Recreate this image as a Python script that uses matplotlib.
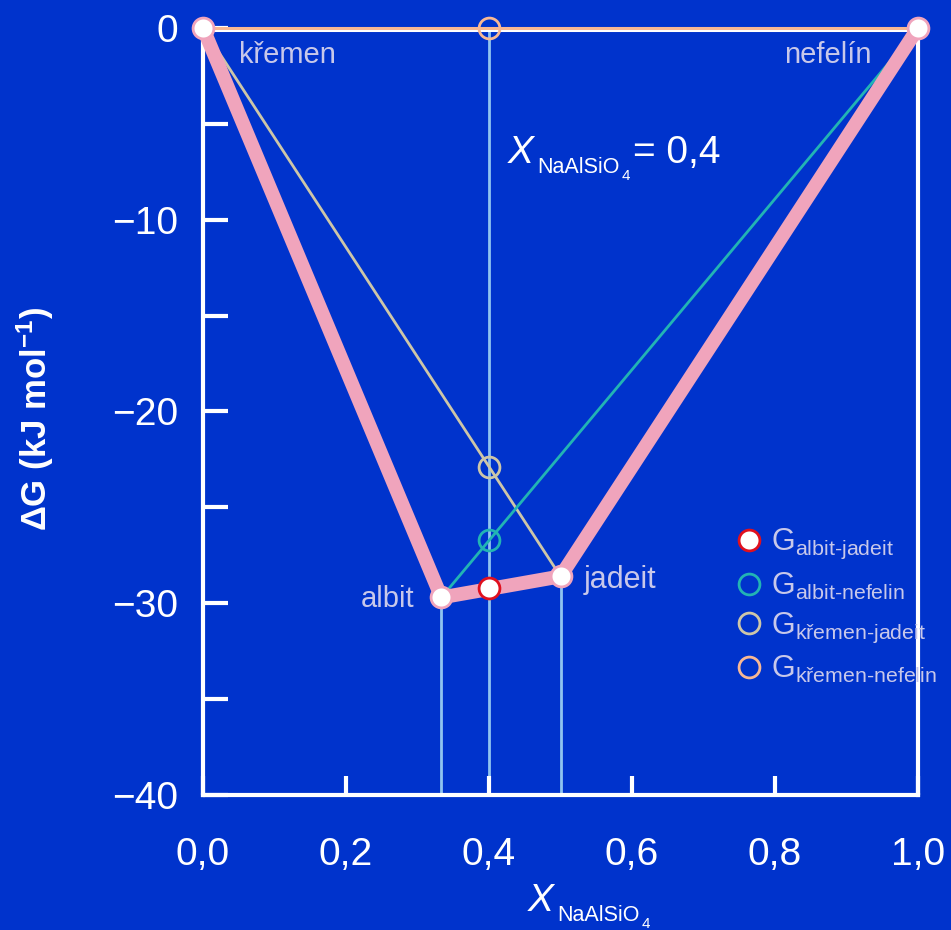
import matplotlib
matplotlib.use('Agg')
import matplotlib.pyplot as plt
import matplotlib.patheffects as pe
from matplotlib.lines import Line2D
from matplotlib.ticker import FuncFormatter, MultipleLocator

plt.rcParams['font.family'] = ['Liberation Sans', 'DejaVu Sans']
plt.rcParams['mathtext.fontset'] = 'custom'
plt.rcParams['mathtext.rm'] = 'Liberation Sans'
plt.rcParams['mathtext.it'] = 'Liberation Sans:italic'
plt.rcParams['mathtext.bf'] = 'Liberation Sans:bold'

# data
phases = ['křemen', 'albit', 'jadeit', 'nefelín']
x_phase = [0.0, 1/3, 0.5, 1.0]
g_phase = [0.0, -29.7, -28.6, 0.0]

x_bulk = 0.4
g_bulk = [-29.2, -26.7, -22.9, 0.0]   # albit-jadeit, albit-nefelin, kremen-jadeit, kremen-nefelin
bulk_names = ['albit-jadeit', 'albit-nefelin', 'křemen-jadeit', 'křemen-nefelin']

bg = '#0033cc'
pink = '#f0a4bc'
teal = '#22b4b4'
beige = '#cdc6a8'
peach = '#f8b894'
vline = '#90c4f0'
lav = '#c8c8ea'

W, H = 951, 930
fig = plt.figure(figsize=(W / 100, H / 100), dpi=100, facecolor=bg)
ax = fig.add_axes([0.2135, 0.1452, 0.7518, 0.8247])
ax.set_facecolor(bg)


def x_na(px, py, tail=''):
    # X with NaAlSiO4 subscript, placed by pixel position of X baseline
    fig.text(px / W, 1 - py / H, 'X', color='white', fontsize=28, style='italic', va='baseline')
    fig.text((px + 29) / W, 1 - (py + 10) / H, 'NaAlSiO', color='white', fontsize=15.5, va='baseline')
    fig.text((px + 114) / W, 1 - (py + 17) / H, '4', color='white', fontsize=11, va='baseline')
    if tail:
        fig.text((px + 125) / W, 1 - py / H, tail, color='white', fontsize=28, va='baseline')


# vertical guide lines
ax.plot([x_phase[1], x_phase[1]], [-40, g_phase[1]], color=vline, lw=2, zorder=1)
ax.plot([x_phase[2], x_phase[2]], [-40, g_phase[2]], color=vline, lw=2, zorder=1)
ax.plot([x_bulk, x_bulk], [-40, 0], color=vline, lw=2, zorder=1)

# tie lines
ax.plot([x_phase[0], x_phase[3]], [g_phase[0], g_phase[3]], color=peach, lw=2.2, zorder=2, clip_on=False,
        path_effects=[pe.SimpleLineShadow(offset=(0, -1.6), shadow_color='white', alpha=1), pe.Normal()])
ax.plot([x_phase[0], x_phase[2]], [g_phase[0], g_phase[2]], color=beige, lw=2, zorder=2)
ax.plot([x_phase[1], x_phase[3]], [g_phase[1], g_phase[3]], color=teal, lw=2, zorder=2)
ax.plot(x_phase, g_phase, color=pink, lw=10, zorder=3, solid_joinstyle='round', clip_on=False)

# phase points
ax.plot(x_phase, g_phase, 'o', ms=15, mfc='white', mec=pink, mew=2, zorder=5, clip_on=False)

# bulk composition points
edge_cols = ['#e0101e', teal, beige, peach]
face_cols = ['white', 'none', 'none', 'none']
for g, ec, fc in zip(g_bulk, edge_cols, face_cols):
    ax.plot([x_bulk], [g], 'o', ms=15, mfc=fc, mec=ec, mew=2, zorder=6, clip_on=False)

# phase labels
ax.text(0.05, -1.4, phases[0], color=lav, fontsize=21, ha='left', va='center')
ax.text(0.935, -1.4, phases[3], color=lav, fontsize=21, ha='right', va='center')
ax.text(0.295, -29.8, phases[1], color=lav, fontsize=21, ha='right', va='center')
ax.text(0.533, -28.8, phases[2], color=lav, fontsize=22, ha='left', va='center')

x_na(508, 163, '= 0,4')

# legend
handles = [Line2D([], [], ls='none', marker='o', ms=15, mfc=fc, mec=ec, mew=2)
           for ec, fc in zip(edge_cols, face_cols)]
labels = [r'$\mathrm{G}_{\text{%s}}$' % n for n in bulk_names]
leg = ax.legend(handles, labels, loc='upper left', bbox_to_anchor=(0.7, 0.385), frameon=False,
                fontsize=22, handletextpad=0.1, labelspacing=0.3, handlelength=1.2)
for t in leg.get_texts():
    t.set_color(lav)

ax.set_xlim(0, 1)
ax.set_ylim(-40, 0)
ax.xaxis.set_major_locator(MultipleLocator(0.2))
ax.yaxis.set_major_locator(MultipleLocator(10))
ax.yaxis.set_minor_locator(MultipleLocator(5))
ax.xaxis.set_major_formatter(FuncFormatter(lambda v, p: ('%.1f' % v).replace('.', ',')))
ax.yaxis.set_major_formatter(FuncFormatter(lambda v, p: ('%d' % round(v)).replace('-', '\u2212')))

ax.tick_params(axis='y', which='both', direction='in', length=18, width=3, color='white',
               labelcolor='white', labelsize=28, pad=18)
ax.tick_params(axis='x', which='both', direction='in', length=14, width=3, color='white',
               labelcolor='white', labelsize=28, pad=30)

for s in ['left', 'right', 'bottom']:
    ax.spines[s].set_color('white')
    ax.spines[s].set_linewidth(3)
ax.spines['top'].set_visible(False)

ax.set_ylabel(r'ΔG (kJ mol$\mathbf{^{-1}}$)', color='white', fontsize=25, fontweight='bold')
ax.yaxis.set_label_coords(-0.205, 0.49)

# x axis label
x_na(528, 911)

fig.savefig('out.png', dpi=100, facecolor=bg)
